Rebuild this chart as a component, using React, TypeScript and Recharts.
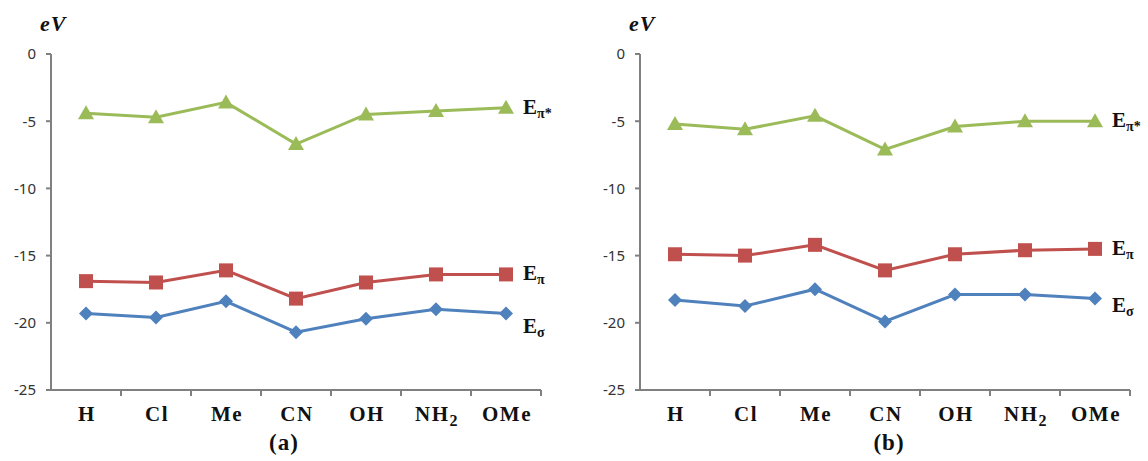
import { LabelList, Line, LineChart, XAxis, YAxis } from "recharts";

const categories = ["H", "Cl", "Me", "CN", "OH", "NH2", "OMe"];
const yTicks = [0, -5, -10, -15, -20, -25];

// panel (a)
const piStarA = [-4.4, -4.7, -3.6, -6.7, -4.5, -4.25, -4.0];
const piA = [-16.9, -17.0, -16.1, -18.2, -17.0, -16.4, -16.4];
const sigmaA = [-19.3, -19.6, -18.4, -20.7, -19.7, -19.0, -19.3];

// panel (b)
const piStarB = [-5.2, -5.6, -4.6, -7.1, -5.4, -5.0, -5.0];
const piB = [-14.9, -15.0, -14.2, -16.1, -14.9, -14.6, -14.5];
const sigmaB = [-18.3, -18.75, -17.5, -19.9, -17.9, -17.9, -18.2];

const GREEN = "#9bbb59";
const RED = "#c0504d";
const BLUE = "#4f81bd";
const AXIS = "#808080";
const SERIF = "'Liberation Serif', 'Times New Roman', serif";
const SANS = "'Noto Sans', 'Open Sans', sans-serif";

const PLOT_W = 490;
const HALF_BAND = PLOT_W / categories.length / 2;

function buildRows(piStar: number[], pi: number[], sigma: number[]) {
  return categories.map((c, i) => ({ cat: c, piStar: piStar[i], pi: pi[i], sigma: sigma[i] }));
}

const Triangle = (props: any) => {
  const { cx, cy } = props;
  if (cx == null || cy == null) return null;
  return <path d={`M${cx},${cy - 8} L${cx + 8},${cy + 6} L${cx - 8},${cy + 6} Z`} fill={GREEN} />;
};

const Square = (props: any) => {
  const { cx, cy } = props;
  if (cx == null || cy == null) return null;
  return <rect x={cx - 7} y={cy - 7} width={14} height={14} fill={RED} />;
};

const Diamond = (props: any) => {
  const { cx, cy } = props;
  if (cx == null || cy == null) return null;
  return <path d={`M${cx},${cy - 7} L${cx + 7},${cy} L${cx},${cy + 7} L${cx - 7},${cy} Z`} fill={BLUE} />;
};

const CatTick = (props: any) => {
  const { x, y, payload } = props;
  const v = payload.value as string;
  return (
    <g>
      <line x1={x + HALF_BAND} x2={x + HALF_BAND} y1={y} y2={y + 6} stroke={AXIS} strokeWidth={2} />
      <text
        x={x + 1}
        y={y + 31}
        textAnchor="middle"
        fontFamily={SERIF}
        fontWeight="bold"
        fontSize={21}
        letterSpacing={1.5}
        fill="#111"
      >
        {v === "NH2" ? (
          <>
            NH<tspan fontSize={16} dy={5}>2</tspan>
          </>
        ) : (
          v
        )}
      </text>
    </g>
  );
};

function seriesLabel(sub: string, dy: number) {
  return (props: any) => {
    const { x, y, index } = props;
    if (index !== categories.length - 1) return null;
    return (
      <text x={x + 17} y={y + dy} fontFamily={SERIF} fontWeight="bold" fontSize={21} fill="#111">
        E<tspan fontSize={14} dy={4}>{sub}</tspan>
      </text>
    );
  };
}

type PanelProps = {
  left: number;
  caption: string;
  captionX: number;
  piStar: number[];
  pi: number[];
  sigma: number[];
  sigmaDy: number;
};

function Panel({ left, caption, captionX, piStar, pi, sigma, sigmaDy }: PanelProps) {
  const rows = buildRows(piStar, pi, sigma);
  return (
    <div style={{ position: "absolute", left, top: 0, width: 580, height: 461 }}>
      <LineChart
        width={580}
        height={461}
        data={rows}
        margin={{ top: 54, right: 39, bottom: 41, left: 0 }}
        style={{ overflow: "visible" }}
      >
        <XAxis
          dataKey="cat"
          height={30}
          stroke={AXIS}
          strokeWidth={2}
          tickLine={false}
          tickSize={0}
          tickMargin={0}
          interval={0}
          padding={{ left: HALF_BAND, right: HALF_BAND }}
          tick={<CatTick />}
        />
        <YAxis
          width={51}
          domain={[-25, 0]}
          ticks={yTicks}
          stroke={AXIS}
          strokeWidth={2}
          tickSize={5}
          tickMargin={10}
          tick={{ fontFamily: SANS, fontSize: 15, fill: "#333" }}
          interval={0}
        />
        <Line dataKey="piStar" stroke={GREEN} strokeWidth={3} dot={<Triangle />} activeDot={false} isAnimationActive={false}>
          <LabelList dataKey="piStar" content={seriesLabel("π*", 6)} />
        </Line>
        <Line dataKey="pi" stroke={RED} strokeWidth={3} dot={<Square />} activeDot={false} isAnimationActive={false}>
          <LabelList dataKey="pi" content={seriesLabel("π", 6)} />
        </Line>
        <Line dataKey="sigma" stroke={BLUE} strokeWidth={3} dot={<Diamond />} activeDot={false} isAnimationActive={false}>
          <LabelList dataKey="sigma" content={seriesLabel("σ", sigmaDy)} />
        </Line>
      </LineChart>
      <div
        style={{
          position: "absolute",
          left: 40,
          top: 11,
          fontFamily: SERIF,
          fontStyle: "italic",
          fontWeight: "bold",
          fontSize: 22,
          letterSpacing: 1,
          color: "#111",
        }}
      >
        eV
      </div>
      <div
        style={{
          position: "absolute",
          left: captionX - 40,
          width: 80,
          top: 430,
          textAlign: "center",
          fontFamily: SERIF,
          fontWeight: "bold",
          fontSize: 23,
          letterSpacing: 1,
          color: "#111",
        }}
      >
        {caption}
      </div>
    </div>
  );
}

export default function App() {
  return (
    <div style={{ position: "absolute", left: 0, top: 0, width: 1148, height: 461, background: "#fff" }}>
      <Panel left={0} caption="(a)" captionX={284} piStar={piStarA} pi={piA} sigma={sigmaA} sigmaDy={20} />
      <Panel left={589} caption="(b)" captionX={300} piStar={piStarB} pi={piB} sigma={sigmaB} sigmaDy={13} />
    </div>
  );
}
